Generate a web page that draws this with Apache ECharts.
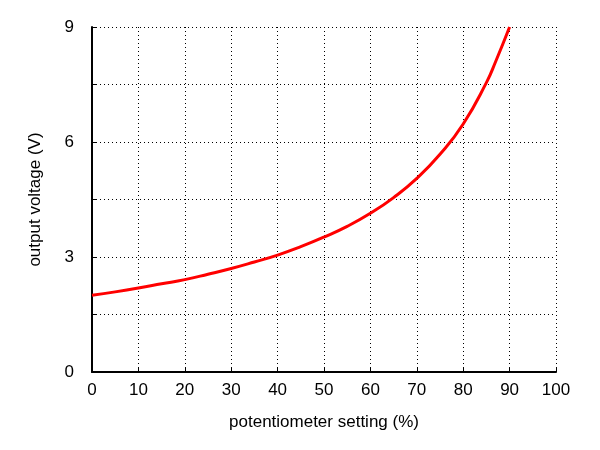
<!DOCTYPE html>
<html>
<head>
<meta charset="utf-8">
<script src="https://cdn.jsdelivr.net/npm/echarts@6/dist/echarts.min.js"></script>
<style>html,body{margin:0;padding:0;background:#fff}#c{width:600px;height:450px}</style>
</head>
<body>
<div id="c"></div>
<script>
// potentiometer setting (%) and output voltage (V)
var setting = [0, 5, 10, 15, 20, 25, 30, 35, 40, 45, 50, 55, 60, 65, 70, 75, 80, 85, 87, 90];
var voltage = [2.0, 2.09, 2.19, 2.3, 2.41, 2.55, 2.70, 2.87, 3.05, 3.27, 3.52, 3.8, 4.14, 4.55, 5.05, 5.68, 6.47, 7.55, 8.1, 9.0];

var chart = echarts.init(document.getElementById('c'));
var font = 'Liberation Sans, Arial, sans-serif';
var dotted = { show: true, lineStyle: { color: '#000', type: [1, 3], width: 1 } };

chart.setOption({
  animation: false,
  grid: { left: 92, right: 44, top: 27, bottom: 78 },
  xAxis: {
    type: 'value', min: 0, max: 100, interval: 10,
    name: 'potentiometer setting (%)', nameLocation: 'middle', nameGap: 42,
    nameTextStyle: { color: '#000', fontSize: 17, fontFamily: font },
    axisLine: { lineStyle: { color: '#000', width: 2 } },
    axisTick: { inside: true, length: 5, lineStyle: { color: '#000' } },
    axisLabel: { color: '#000', fontSize: 17, fontFamily: font, margin: 10 },
    splitLine: dotted
  },
  yAxis: {
    type: 'value', min: 0, max: 9, interval: 1.5,
    name: 'output voltage (V)', nameLocation: 'middle', nameGap: 48,
    nameTextStyle: { color: '#000', fontSize: 17, fontFamily: font },
    axisLine: { show: true, lineStyle: { color: '#000', width: 2 } },
    axisTick: { inside: true, length: 5, lineStyle: { color: '#000' } },
    axisLabel: {
      color: '#000', fontSize: 17, fontFamily: font, margin: 18,
      formatter: function (v) { return v % 3 === 0 ? String(v) : ''; }
    },
    splitLine: dotted
  },
  series: [{
    type: 'line', smooth: true, showSymbol: false,
    data: setting.map(function (s, i) { return [s, voltage[i]]; }),
    lineStyle: { color: '#ff0000', width: 3 }
  }]
});
</script>
</body>
</html>
